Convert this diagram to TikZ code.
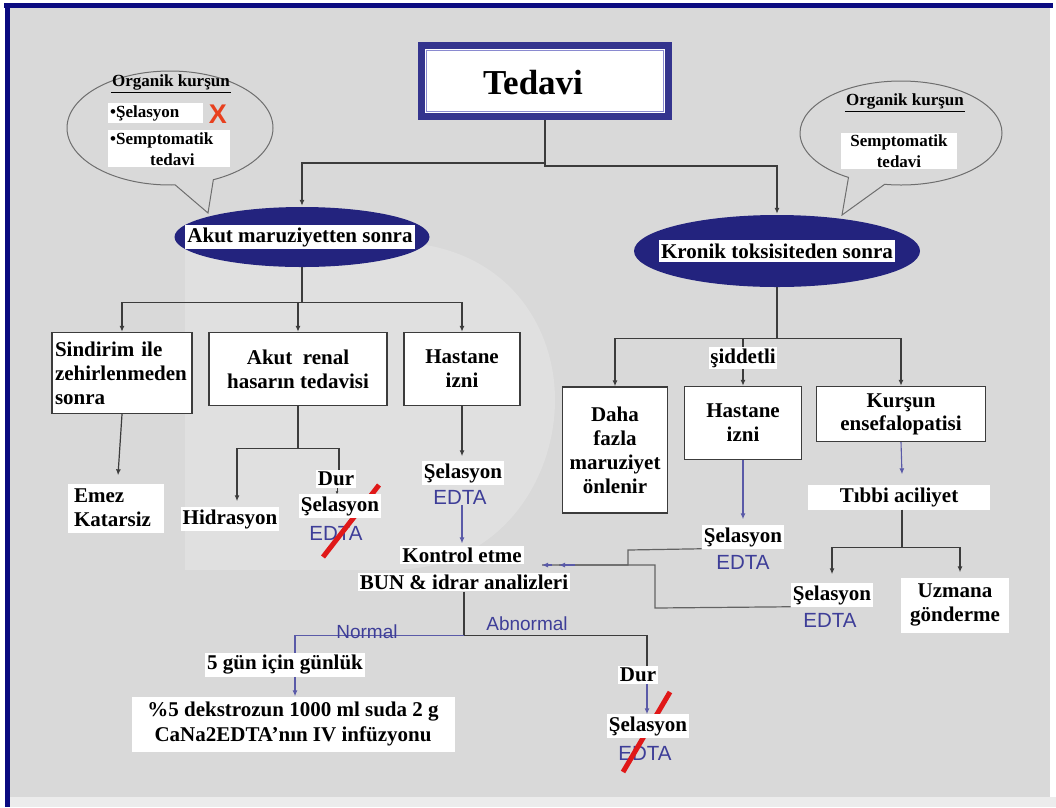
\documentclass[tikz,border=0pt]{standalone}
\usepackage{fontspec}
\setmainfont{Liberation Serif}
\setsansfont{Liberation Sans}
\usetikzlibrary{shapes.geometric,shapes.callouts,arrows.meta}
\definecolor{bgc}{HTML}{D9D9D9}
\definecolor{wmc}{HTML}{E0E0E0}
\definecolor{stripc}{HTML}{ECECEC}
\definecolor{navyb}{HTML}{0A0A80}
\definecolor{navyt}{HTML}{34348E}
\definecolor{navyl}{HTML}{8A8AD0}
\definecolor{navye}{HTML}{23237E}
\definecolor{linec}{HTML}{3C3C3C}
\definecolor{bluel}{HTML}{5A5AA8}
\definecolor{edtac}{HTML}{3E3E98}
\definecolor{redx}{HTML}{E8401E}
\definecolor{slashc}{HTML}{E01818}
\definecolor{calc}{HTML}{6E6E6E}
\newcommand\bxf{\fontsize{21}{24}\selectfont\bfseries}
\newcommand\ellf{\fontsize{21}{24}\selectfont\bfseries}
\newcommand\smf{\fontsize{17}{21}\selectfont\bfseries}
\newcommand\tedf{\fontsize{35}{40}\selectfont\bfseries}
\newcommand\edf{\fontsize{20.5}{24}\selectfont\sffamily}
\newcommand\nmf{\fontsize{19}{22}\selectfont\sffamily}
\begin{document}
\begin{tikzpicture}[x=1pt,y=-1pt,
  line/.style={draw=linec, line width=1.2pt},
  arr/.style={line, -{Latex[length=6pt,width=5pt]}},
  barr/.style={draw=bluel, line width=1.1pt, -{Latex[length=6pt,width=5pt]}},
  tarr/.style={draw=linec, line width=1pt, -{Latex[length=3pt,width=3pt]}},
  nline/.style={draw=bluel, line width=1.2pt},
  box/.style={draw=linec, line width=1.4pt, fill=white, font=\bxf, align=center, inner sep=0pt},
  lab/.style={fill=white, font=\bxf, inner sep=2pt, align=center},
  edta/.style={font=\edf, text=edtac, inner sep=1pt},
  nlab/.style={font=\nmf, text=edtac, inner sep=1pt},
  bar/.style={fill=white, font=\ellf, inner sep=2pt, minimum height=22pt},
  balloon/.style={ellipse callout, draw=calc, line width=1pt, callout pointer arc=22, inner sep=0pt},
  slash/.style={draw=slashc, line width=5pt},
  uline/.style={draw=black, line width=0.9pt}]
\useasboundingbox (0,0) rectangle (1056,807);

% page background, frame and watermark
\fill[white] (0,0) rectangle (1056,807);
\fill[bgc] (10,8) rectangle (1050,797);
\fill[stripc] (10,797) rectangle (1056,807);
\fill[wmc] (185,242) -- (390,242) .. controls (500,242) and (555,320) .. (555,400)
  .. controls (555,480) and (500,570) .. (390,570) -- (185,570) -- cycle;
\fill[navyb] (4,3) rectangle (1053,8);
\fill[navyb] (5,3) rectangle (10,807);

% speech balloons
\coordinate (tipL) at (208,213);
\coordinate (tipR) at (842,215);
\node[balloon, minimum width=206pt, minimum height=114pt, callout absolute pointer={(tipL)}] (calL) at (170,128) {};
\node[balloon, minimum width=202pt, minimum height=104pt, callout absolute pointer={(tipR)}] (calR) at (901,133) {};

\node[font=\smf, inner sep=1pt] (orgL) at (171,82) {Organik kurşun};
\draw[uline] ([yshift=-1pt]orgL.south west) -- ([yshift=-1pt]orgL.south east);
\node[fill=white, font=\smf, anchor=west, text width=91pt, align=left, inner sep=2pt] (selL) at (108,113) {•Şelasyon};
\node[text=redx, font=\fontsize{27}{27}\selectfont\sffamily\bfseries, inner sep=0pt] (xmark) at (218,114) {X};
\node[fill=white, font=\smf, anchor=north west, text width=118pt, align=left, inner sep=2pt] (semL) at (108,130) {•Semptomatik\\\hspace*{40pt}tedavi};

\node[font=\smf, inner sep=1pt] (orgR) at (905,101) {Organik kurşun};
\draw[uline] ([yshift=-1pt]orgR.south west) -- ([yshift=-1pt]orgR.south east);
\node[fill=white, font=\smf, text width=112pt, align=center, inner sep=2pt] (semR) at (899,151) {Semptomatik\\tedavi};

% title
\node[draw=navyt, line width=7pt, fill=white, minimum width=247pt, minimum height=71pt, inner sep=0pt] (tedavi) at (545,81) {};
\node[draw=navyl, line width=1.2pt, minimum width=237pt, minimum height=61pt, inner sep=0pt] (tedin) at (545,81) {};
\node[font=\tedf, inner sep=0pt] (tedtxt) at (533,83) {Tedavi};

% first level
\node[ellipse, fill=navye, minimum width=255pt, minimum height=60pt, inner sep=0pt] (akut) at (302,237) {};
\node[bar] (akutt) at (300,237) {Akut maruziyetten sonra};
\node[ellipse, fill=navye, minimum width=286pt, minimum height=72pt, inner sep=0pt] (kronik) at (777,251) {};
\node[bar] (kronikt) at (777,251) {Kronik toksisiteden sonra};

\draw[line] (tedavi.south) -- ++(0,43) coordinate (j1);
\draw[arr] (j1) -| ([yshift=1pt]akut.north);
\draw[arr] (tedavi.south) -- ++(0,46) -| ([yshift=1pt]kronik.north);

% acute branch
\node[box, minimum width=140pt, minimum height=81pt, text width=134pt, align=left] (sind) at (122,373) {Sindirim ile\\zehirlenmeden\\sonra};
\node[box, minimum width=178pt, minimum height=73pt] (renal) at (298,369) {Akut\ \ renal\\hasarın tedavisi};
\node[box, minimum width=116pt, minimum height=73pt] (hastL) at (462,369) {Hastane\\izni};

\draw[line] (akut.south) -- ++(0,35) coordinate (j2);
\draw[arr] (j2) -| (sind.north);
\draw[arr] (j2) -| (renal.north);
\draw[arr] (j2) -| (hastL.north);

\node[lab, text width=92pt, align=left, minimum height=49pt] (emez) at (116,508) {\hspace*{4pt}Emez\\\hspace*{4pt}Katarsiz};
\draw[arr] (sind.south) -- ([xshift=2pt,yshift=8pt]emez.north);

\node[lab] (hidr) at (230,519) {Hidrasyon};
\node[lab] (dur) at (336,479) {Dur};
\node[edta] (edtaB) at (336,533) {EDTA};
\draw[slash] (323,557) -- (379,485);
\node[lab] (selB) at (340,506) {Şelasyon};
\draw[line] (renal.south) -- ++(0,42) coordinate (j3);
\draw[arr] (j3) -| ([xshift=7pt,yshift=6pt]hidr.north);
\draw[line] (j3) -| ([xshift=3pt]dur.north);
\draw[tarr] ([xshift=1pt]dur.south) -- ([xshift=-3pt]selB.north);

\node[lab] (selA) at (463,473) {Şelasyon};
\node[edta] (edtaA) at (460,497) {EDTA};
\draw[arr] (hastL.south) -- ([xshift=-1pt,yshift=5pt]selA.north);

\node[lab] (kont1) at (462,555) {Kontrol etme};
\node[lab] (kont2) at (464,582) {BUN \& idrar analizleri};
\draw[barr] ([xshift=2pt]edtaA.south) -- ([yshift=2pt]kont1.north);

% chronic branch
\node[box, minimum width=105pt, minimum height=126pt] (daha) at (615,450) {Daha\\fazla\\maruziyet\\önlenir};
\node[box, minimum width=117pt, minimum height=73pt] (hastR) at (743,423) {Hastane\\izni};
\node[box, minimum width=169pt, minimum height=55pt, font=\fontsize{21}{23}\selectfont\bfseries] (kursun) at (901,414) {Kurşun\\ensefalopatisi};

\draw[line] (kronik.south) -- ++(0,51) coordinate (j4);
\draw[arr] (j4) -| (daha.north);
\draw[arr] (j4) -| (hastR.north);
\draw[arr] (j4) -| (kursun.north);
\node[lab, inner sep=1.5pt] (sidd) at (743,358) {şiddetli};

\node[lab] (selR) at (743,537) {Şelasyon};
\node[edta] (edtaR) at (743,562) {EDTA};
\draw[barr] (hastR.south) -- ([yshift=6pt]selR.north);

\node[lab, minimum width=182pt, minimum height=25pt] (tibbi) at (899,497) {Tıbbi aciliyet};
\draw[barr] (kursun.south) -- ([xshift=3pt,yshift=10pt]tibbi.north);
\draw[line] ([xshift=3pt]tibbi.south) -- ++(0,38) coordinate (j5);

\node[lab] (selC) at (832,595) {Şelasyon};
\node[edta] (edtaC) at (830,620) {EDTA};
\node[lab, minimum width=108pt, minimum height=55pt] (uzm) at (955,605) {Uzmana\\gönderme};
\draw[arr] (j5) -| ([yshift=9pt]selC.north);
\draw[arr] (j5) -| ([xshift=5pt,yshift=5pt]uzm.north);

% return lines to the control step
\coordinate (kin1) at (542,565);
\coordinate (kin2) at (559,565);
\draw[line, draw=linec!80] (selC.south west) -- (655,608) -- (655,565) -- (kin2);
\draw[line, draw=linec!80] (selR.south west) -- (628,550) -- (628,565) -- (kin1);
\draw[draw=bluel, line width=1.1pt, -{Latex[length=6pt,width=5pt]}] (552,565) -- (kin1);
\draw[draw=bluel, line width=1.1pt, -{Latex[length=6pt,width=5pt]}] (575,565) -- (kin2);

% outcome of the control
\draw[line] (kont2.south) -- ++(0,44) coordinate (j6);
\node[lab] (gun) at (285,665) {5 gün için günlük};
\node[lab, minimum width=323pt, minimum height=55pt, font=\fontsize{21}{25}\selectfont\bfseries] (dekst) at (293,724) {\%5 dekstrozun 1000 ml suda 2 g\\CaNa2EDTA'nın IV infüzyonu};
\draw[nline] (j6) -| ([xshift=10pt]gun.north);
\draw[barr] ([xshift=10pt]gun.south) -- ([xshift=2pt]dekst.north);
\node[nlab] (normal) at (367,632) {Normal};

\node[lab] (dur2) at (638,675) {Dur};
\node[edta] (edtaD) at (645,753) {EDTA};
\draw[slash] (623,772) -- (670,692);
\node[lab] (selD) at (648,726) {Şelasyon};
\draw[line] (j6) -| ([xshift=9pt]dur2.north);
\draw[barr] ([xshift=9pt]dur2.south) -- ([xshift=-1pt]selD.north);
\node[nlab] (abn) at (527,624) {Abnormal};
\end{tikzpicture}
\end{document}
